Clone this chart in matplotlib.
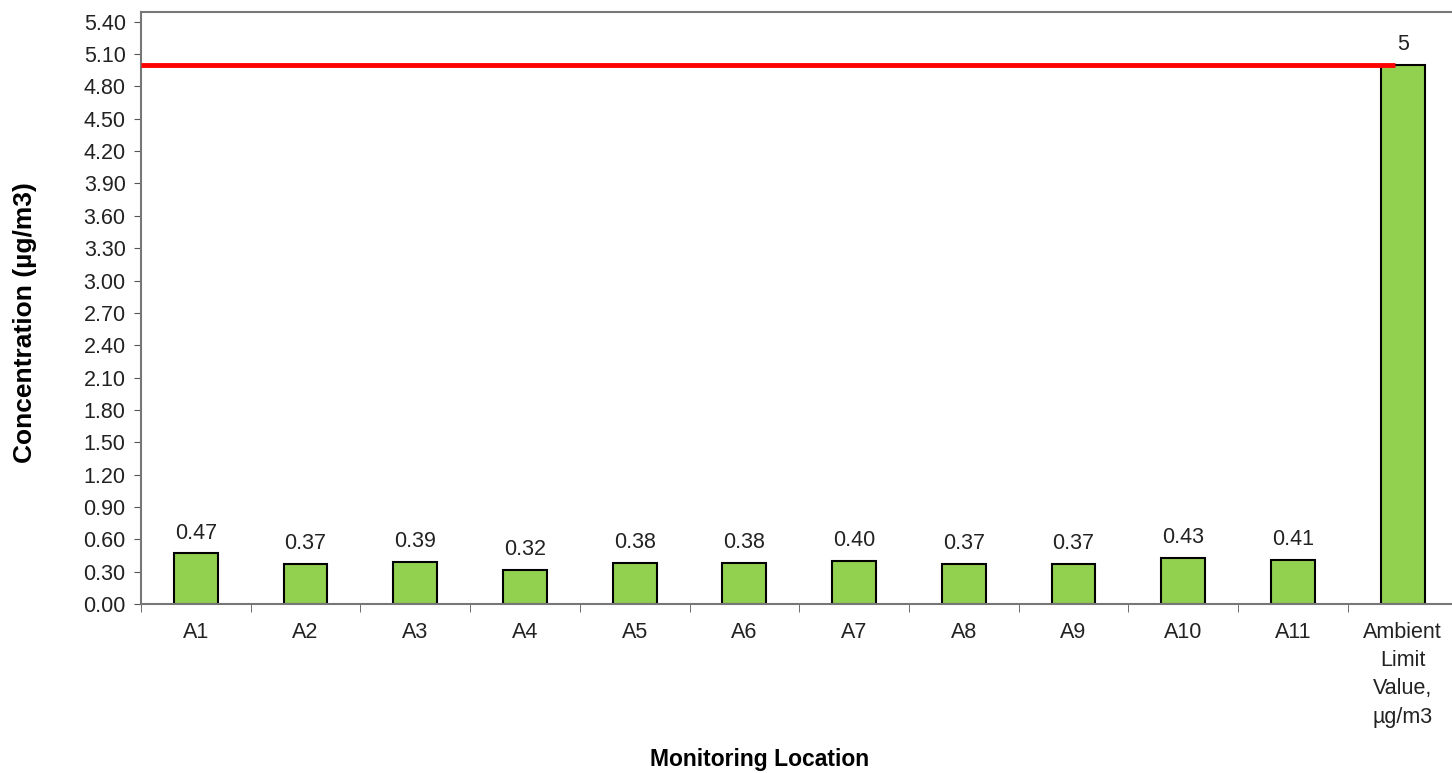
import numpy as np
import matplotlib.pyplot as plt

plt.rcParams['font.family'] = ['Liberation Sans', 'DejaVu Sans']

locations = ['A1', 'A2', 'A3', 'A4', 'A5', 'A6', 'A7', 'A8', 'A9', 'A10', 'A11',
             'Ambient\nLimit\nValue,\nµg/m3']
values = [0.47, 0.37, 0.39, 0.32, 0.38, 0.38, 0.40, 0.37, 0.37, 0.43, 0.41, 5]
labels = ['0.47', '0.37', '0.39', '0.32', '0.38', '0.38', '0.40', '0.37', '0.37',
          '0.43', '0.41', '5']
limit = 5.0

fig = plt.figure(figsize=(14.52, 7.73), dpi=100)
ax = fig.add_axes([0.0971, 0.2186, 0.9029, 0.7659])

x = np.arange(len(locations))
ax.bar(x, values, width=0.4, color='#92D050', edgecolor='black', linewidth=1.5, zorder=2)

# limit line across the plot up to the last bar
ax.plot([-0.5, 10.93], [limit, limit], color='#FF0000', linewidth=3.5, zorder=3,
        solid_capstyle='butt')

for xi, v, lab in zip(x, values, labels):
    ax.annotate(lab, (xi, v), xytext=(0, 7), textcoords='offset points',
                ha='center', va='bottom', fontsize=15.5, color='#222222')

ax.set_xlim(-0.5, 11.45)
ax.set_ylim(0, 5.49)
ax.set_yticks(np.arange(0, 5.41, 0.30))
ax.set_yticklabels([f'{t:.2f}' for t in np.arange(0, 5.41, 0.30)])
ax.set_xticks(x)
ax.set_xticklabels(locations, fontsize=15.5, linespacing=1.45, va='top', color='#222222')
ax.set_xticks(np.arange(-0.5, 11.5, 1), minor=True)
ax.tick_params(axis='x', which='major', length=0, pad=13)
ax.tick_params(axis='x', which='minor', length=6, color='#555555', direction='out')
ax.tick_params(axis='y', labelsize=15.5, length=5, color='#555555', pad=6, labelcolor='#222222')

for side in ['left', 'bottom', 'top']:
    ax.spines[side].set_color('#777777')
    ax.spines[side].set_linewidth(1.5)
ax.spines['right'].set_visible(False)

ax.set_ylabel('Concentration (µg/m3)', fontsize=19, fontweight='bold')
ax.yaxis.set_label_coords(-0.079, 0.476)
ax.set_xlabel('Monitoring Location', fontsize=16.5, fontweight='bold')
ax.xaxis.set_label_coords((760 - 141) / 1311, -0.243)

fig.savefig('out.png', dpi=100)
